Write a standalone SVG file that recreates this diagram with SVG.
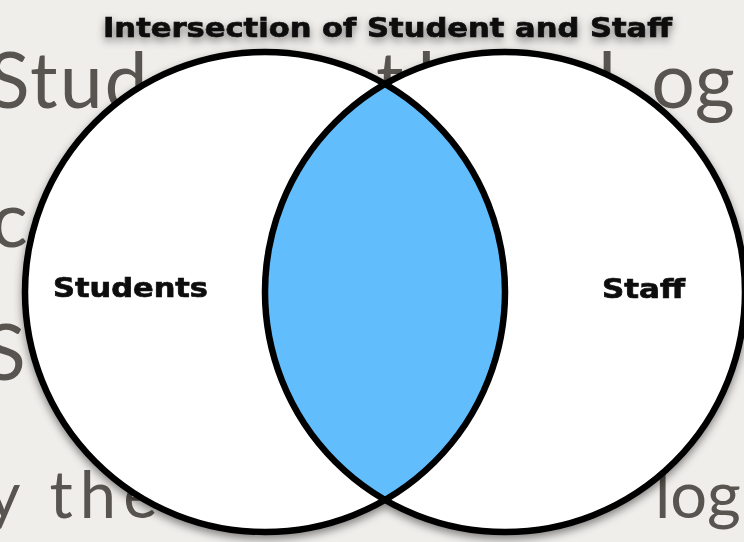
<svg xmlns="http://www.w3.org/2000/svg" width="744" height="542" viewBox="0 0 744 542">
  <defs>
    <style>
      .slide { font-family: Lato, "Open Sans", "DejaVu Sans", sans-serif; fill: #58544f; }
      .venn-label { font-family: "DejaVu Sans", Verdana, sans-serif; font-weight: bold; fill: #111; stroke: #111; stroke-width: 0.7; }
      .set-fill { fill: #ffffff; }
      .set-edge { fill: none; stroke: #000; stroke-width: 6.5; }
      .overlap { fill: #62bdfd; }
    </style>
    <filter id="soft-shadow" x="-10%" y="-10%" width="120%" height="120%">
      <feDropShadow dx="0" dy="4" stdDeviation="4" flood-color="#000" flood-opacity="0.45"/>
    </filter>
  </defs>

  <!-- slide background with its body text -->
  <g id="background">
    <rect width="744" height="542" fill="#f0eeeb"/>
    <text class="slide" x="-12" y="108" font-size="77" letter-spacing="2">Stud</text>
    <text class="slide" x="376" y="108" font-size="77" letter-spacing="14">th</text>
    <text class="slide" x="598" y="108" font-size="77">l<tspan dx="35">og</tspan></text>
    <text class="slide" x="-9" y="247" font-size="77">c</text>
    <text class="slide" x="-16" y="380" font-size="77">S</text>
    <text class="slide" x="-13" y="518" font-size="65" letter-spacing="7">y the</text>
    <text class="slide" x="655" y="518" font-size="65">log</text>
  </g>

  <!-- Venn diagram of the two sets -->
  <g id="venn" filter="url(#soft-shadow)">
    <g id="title">
      <text class="venn-label" x="103" y="37" font-size="26" textLength="569" lengthAdjust="spacingAndGlyphs">Intersection of Student and Staff</text>
    </g>
    <g id="set-students">
      <circle class="set-fill" cx="265" cy="292" r="240"/>
    </g>
    <g id="set-staff">
      <circle class="set-fill" cx="505" cy="292" r="240"/>
    </g>
    <g id="intersection">
      <path class="overlap" d="M385 84 A240 240 0 0 1 385 500 A240 240 0 0 1 385 84 Z"/>
    </g>
    <g id="outlines">
      <circle class="set-edge" cx="265" cy="292" r="240"/>
      <circle class="set-edge" cx="505" cy="292" r="240"/>
    </g>
    <text class="venn-label" x="53" y="297" font-size="26" textLength="155" lengthAdjust="spacingAndGlyphs">Students</text>
    <text class="venn-label" x="602" y="298" font-size="26" textLength="83" lengthAdjust="spacingAndGlyphs">Staff</text>
  </g>
</svg>
